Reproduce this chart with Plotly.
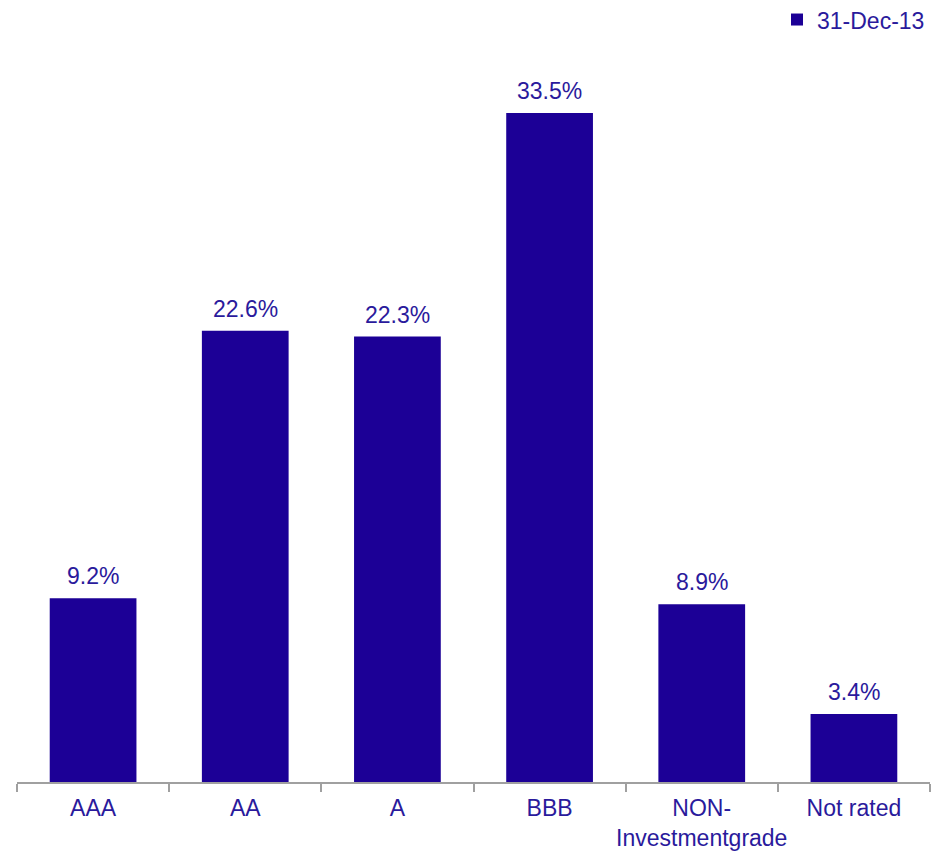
import plotly.graph_objects as go

# Portfolio breakdown by credit rating
categories = ["AAA", "AA", "A", "BBB", "NON-<br>Investmentgrade", "Not rated"]
shares = [9.2, 22.6, 22.3, 33.5, 8.9, 3.4]
series_name = "31-Dec-13"

bar_color = "#1c0096"
text_color = "#2a1a9c"
font_family = "Liberation Sans, Arial, sans-serif"

fig = go.Figure()
fig.add_trace(go.Bar(
    x=categories,
    y=shares,
    name=series_name,
    marker=dict(color=bar_color, line=dict(width=0)),
    width=0.57,
    showlegend=True,
))

for cat, val in zip(categories, shares):
    fig.add_annotation(
        x=cat, y=val, text=f"{val:.1f}%",
        showarrow=False, yanchor="bottom", yshift=7,
        font=dict(family=font_family, size=23, color=text_color),
    )

fig.update_layout(
    width=942, height=854,
    margin=dict(l=17, r=12, t=60, b=72, autoexpand=False),
    paper_bgcolor="white", plot_bgcolor="white",
    font=dict(family=font_family, size=23, color=text_color),
    bargap=0.43,
    showlegend=True,
    legend=dict(
        x=1.0, y=1.056, xanchor="right", yanchor="middle",
        font=dict(family=font_family, size=23, color=text_color),
        itemwidth=30, bgcolor="rgba(0,0,0,0)",
    ),
    xaxis=dict(
        showline=True, linecolor="#a0a0a0", linewidth=1.5,
        ticks="outside", ticklen=8, tickcolor="#a0a0a0", tickwidth=1.5,
        tickson="boundaries", showgrid=False, tickangle=0, automargin=False,
        ticklabelstandoff=5,
        tickfont=dict(family=font_family, size=23, color=text_color),
    ),
    yaxis=dict(
        range=[0, 36.15], visible=False, showgrid=False, zeroline=False,
    ),
)

fig.write_html("out.html")
